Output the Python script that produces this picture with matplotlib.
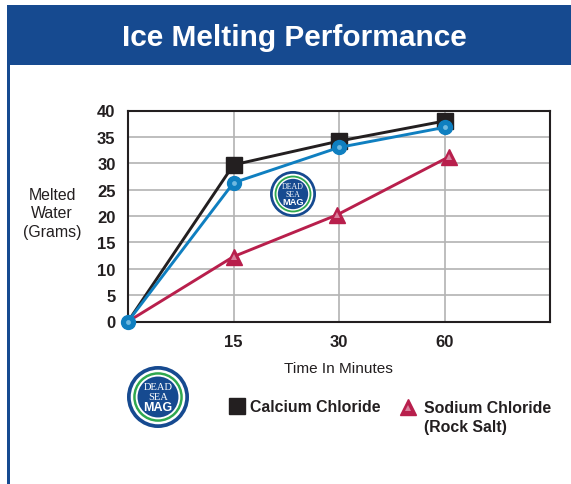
import matplotlib
matplotlib.use('Agg')
import matplotlib.pyplot as plt
from matplotlib.patches import Rectangle, Circle

# values
times = ['15', '30', '60']
positions = [0, 1, 2, 3]
calcium = [0, 29.7, 34.2, 38.0]
deadsea = [0, 26.3, 33.0, 36.8]
sodium = [0, 12.3, 20.2, 31.2]
sodium_pos = [0, 1, 1.98, 3.04]
yticks = [0, 5, 10, 15, 20, 25, 30, 35, 40]

BLUE = '#164a90'
CYAN = '#0f7fc0'
RED = '#b81f4c'
BLACK = '#231f20'
SANS = 'Liberation Sans'

W, H = 571, 485
fig = plt.figure(figsize=(W / 100, H / 100), dpi=100, facecolor='white')

# pixel coordinate layer for the header, logos and legend
bg = fig.add_axes([0, 0, 1, 1], zorder=0)
bg.set_xlim(0, W)
bg.set_ylim(H, 0)
bg.axis('off')
bg.add_patch(Rectangle((7, 6), W - 7, 59.5, color=BLUE, lw=0))
bg.add_patch(Rectangle((7, 6), 3, H - 6, color=BLUE, lw=0))
bg.text(294, 38.5, 'Ice Melting Performance', color='white', family=SANS,
        fontweight='bold', fontsize=21.5, ha='center', va='center')

top = fig.add_axes([0, 0, 1, 1], zorder=3)
top.set_xlim(0, W)
top.set_ylim(H, 0)
top.axis('off')
top.patch.set_alpha(0)


def logo(x, y, r):
    top.add_patch(Circle((x, y), r, color=BLUE, lw=0))
    top.add_patch(Circle((x, y), r * 0.88, color='white', lw=0))
    top.add_patch(Circle((x, y), r * 0.80, color='#2fa84f', lw=0))
    top.add_patch(Circle((x, y), r * 0.72, color='white', lw=0))
    top.add_patch(Circle((x, y), r * 0.66, color=BLUE, lw=0))
    s = r / 31
    top.text(x, y - r * 0.34, 'DEAD', color='white', family='Liberation Serif',
             fontsize=7.6 * s, ha='center', va='center')
    top.text(x, y - r * 0.02, 'SEA', color='white', family='Liberation Serif',
             fontsize=7.6 * s, ha='center', va='center')
    top.text(x, y + r * 0.33, 'MAG', color='white', family=SANS,
             fontweight='bold', fontsize=9 * s, ha='center', va='center')


ax = fig.add_axes([128 / W, 1 - 322.5 / H, 422 / W, 211 / H], zorder=2)
ax.patch.set_alpha(0)
ax.set_xlim(0, 4)
ax.set_ylim(0, 40)
ax.set_xticks(positions[1:])
ax.set_xticklabels(times)
ax.set_yticks(yticks)
ax.grid(True, color='#b3b3b3', lw=1.2)
ax.set_axisbelow(True)
ax.tick_params(length=0)
ax.tick_params(axis='x', pad=9)
ax.tick_params(axis='y', pad=9)
for lab in ax.get_xticklabels() + ax.get_yticklabels():
    lab.set_family(SANS)
    lab.set_fontweight('bold')
    lab.set_fontsize(12)
    lab.set_color(BLACK)
for s in ax.spines.values():
    s.set_linewidth(1.5)
    s.set_color(BLACK)

ax.plot(positions, calcium, color=BLACK, lw=2.1, marker='s', ms=11,
        markevery=[1, 2, 3], clip_on=False, zorder=4)
ax.plot(sodium_pos, sodium, color=RED, lw=2.1, marker='^', ms=11.5,
        markevery=[1, 2, 3], clip_on=False, zorder=4)
ax.plot(sodium_pos[1:], sodium[1:], ls='none', marker='^', ms=4, color='#d9809c',
        mew=0, zorder=5)
ax.plot(positions, deadsea, color=CYAN, lw=2.1, marker='o', ms=10,
        clip_on=False, zorder=6)
ax.plot(positions, deadsea, ls='none', marker='o', ms=3.5, color='#6fb9e0',
        mew=0, clip_on=False, zorder=7)

logo(293, 195, 23)
logo(158, 398, 31)

bg.text(52, 214, 'Melted\nWater\n(Grams)', family=SANS, fontsize=11.4,
        color=BLACK, ha='center', va='center', linespacing=1.3)
bg.text(338, 369.5, 'Time In Minutes', family=SANS, fontsize=11.1,
        color=BLACK, ha='center', va='center')

# legend
top.plot([237], [407], marker='s', ms=11, color=BLACK, ls='none')
top.text(250, 408, 'Calcium Chloride', family=SANS, fontweight='bold',
         fontsize=11.4, color=BLACK, va='center')
top.plot([408], [408], marker='^', ms=11, color=RED, ls='none')
top.plot([408], [409], marker='^', ms=4, color='#d9809c', ls='none', mew=0)
top.text(424, 418, 'Sodium Chloride\n(Rock Salt)', family=SANS, fontweight='bold',
         fontsize=11.4, color=BLACK, va='center', linespacing=1.3)

fig.savefig('out.png', dpi=100)
